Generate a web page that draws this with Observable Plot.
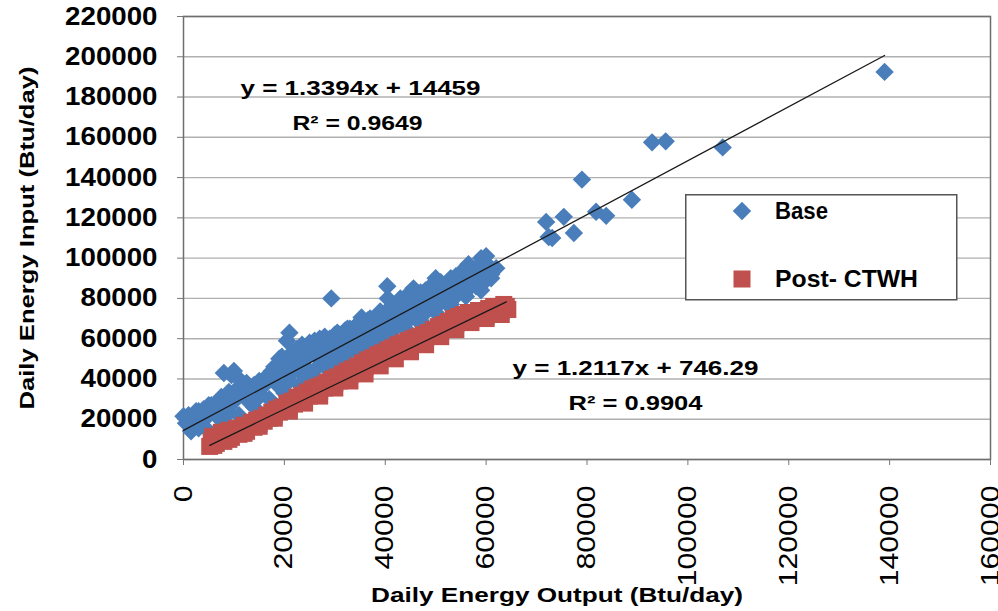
<!DOCTYPE html>
<html><head><meta charset="utf-8">
<script src="https://cdn.jsdelivr.net/npm/d3@7"></script>
<script src="https://cdn.jsdelivr.net/npm/@observablehq/plot@0.6"></script>
<style>
body{margin:0;background:#fff;}
#wrap{position:relative;width:998px;height:611px;font-family:"Liberation Sans",Arial,sans-serif;}
#legend{position:absolute;left:685px;top:194px;}
</style></head><body><div id="wrap"></div>
<script>
const seriesNames = ["Base", "Post- CTWH"];
const baseX = [0,500,1500,2000,2500,3000,4000,4000,5000,5500,6000,6500,7000,7500,8000,8500,9000,9500,10000,10500,11000,11000,12000,12500,13000,13500,14000,14500,15000,15500,16000,16500,17000,17500,18000,18500,19000,19500,20000,20500,21000,21500,22000,22500,23000,23500,24000,24500,25000,25500,26000,26500,27000,27500,28000,28500,29300,29500,30000,30500,31000,31500,32000,32500,33000,33500,34000,34500,35000,35300,36000,36500,37000,37500,38000,38500,39000,39500,40000,40400,40500,41000,41500,42000,42500,43000,43500,44000,44500,45000,45600,46000,47000,47500,48000,48500,49000,50000,50500,51300,52000,52500,53000,54000,55000,55500,56500,57000,57500,58000,59000,60000,60500,61000,62000,
5000,8000,11000,14000,17000,20000,23000,26000,29000,32000,35000,38000,41000,44000,47000,50000,53000,56000,59000,
9000,15000,21000,27000,33000,39000,45000,51000,57000,
2000,4000,6000,8000,10000,12000,14000,16000,18000,20000,22000,24000,26000,28000,30000,32000,34000,36000,38000,40000,42000,44000,46000,48000,50000,52000,54000,56000,58000,60000,
3000,7000,9000,13000,15000,19000,21000,25000,27000,31000,33000,37000,39000,43000,45000,49000,51000,55000,57000,61000,
1000,3000,5000,7000,9000,11000,13000,15000,17000,19000,21000,23000,25000,27000,29000,31000,33000,35000,37000,39000,41000,43000,45000,47000,49000,51000,53000,55000,57000,59000,
23000,29000,35000,41000,47000,53000,59000,
24000,28000,30000,32000,34000,36000,38000,40000,42000,44000,46000,48000,50000,52000,54000,56000,58000,60000,
71900,72400,73100,75400,77400,79000,81800,83800,88900,92900,95600,106900,139000];
const baseY = [21500,18000,14000,20000,24000,17000,25000,20000,22000,27000,24000,28000,26000,31000,43000,28000,33000,42000,44000,30000,35000,40000,32000,38000,36000,33000,37000,35000,39000,36000,40000,38000,41000,44000,46000,42000,50000,51000,47000,59000,63000,53000,49000,55000,52000,57000,54000,51000,58000,55000,59000,53000,60000,57000,61000,55000,80000,59000,62000,63000,57000,61000,64000,65000,60000,63000,66000,67000,62000,70500,65000,69000,67000,64000,70000,68000,73500,70000,72000,86000,80000,74000,77000,72000,76000,80000,74000,78000,82000,76000,85000,79000,81500,77000,84000,80000,86000,90000,84000,87000,82000,88000,85000,91000,93000,88000,97000,92000,89000,94000,100000,101000,96000,90000,95000,
14000,18000,22000,26000,30000,33000,37000,41000,45000,49000,53000,57000,61000,65000,69000,73000,77000,81000,84000,
26000,33000,42000,50000,58000,66000,74000,82000,86000,
19000,23000,25000,27500,31000,33000,35500,38500,41000,44000,46000,49500,52000,54000,57500,60000,62500,65000,68000,70500,73500,76000,78500,81000,84000,86500,89000,92000,95000,97500,
15500,20500,23000,28500,31000,36000,39000,44000,47000,52000,54500,59500,63000,68000,71000,76000,79000,84000,87500,92000,
22000,24000,27000,29000,33500,36000,36500,38500,42000,46500,49500,52000,54500,57000,60000,62000,65000,67000,70000,72000,75500,77500,80500,83000,85000,88000,90000,91000,95000,97000,
45500,53000,61500,69500,77500,85500,93500,
41000,46000,48500,51500,54000,57000,59500,62000,65000,67500,70000,73000,75500,78000,81000,83500,86000,89000,
118000,110500,110000,120500,112500,139000,123000,121000,129000,157500,158000,155000,192500];
const postX = [5200,5500,5800,6500,7000,7500,8000,8500,9000,9500,10000,10500,11000,11500,12000,12500,13000,13500,14000,14500,15000,15500,16000,16500,17000,17500,18000,18500,19000,19500,20000,20500,21000,21500,22000,22500,23000,23500,24000,24500,25000,25500,26000,26500,27000,27500,28000,28500,29000,29500,30000,30500,31000,31500,32000,32500,33000,33500,34000,34500,35000,35500,36000,36500,37000,37500,38000,38500,39000,39500,40000,40500,41000,41500,42000,42500,43000,43500,44000,44500,45000,45500,46000,46500,47000,47500,48000,48500,49000,49500,50000,50500,51000,51500,52000,52500,53000,53500,54000,54500,55000,55500,56000,56500,57000,57500,58000,58500,59000,59500,60000,60500,61000,61500,62000,62500,63000,63500,64000,64300,
6000,9000,12000,15000,18000,21000,24000,27000,30000,33000,36000,39000,42000,45000,48000,51000,54000,57000,60000,63000];
const postY = [6500,9000,11500,8000,11000,13500,9000,12000,14500,11000,13000,15500,12500,15000,17000,14000,16500,18500,16000,19500,18000,20500,19000,22000,20500,23500,22000,25000,23500,26000,25000,28000,26500,29000,27500,31000,29000,32000,30000,33500,31500,35000,33000,36000,34000,37000,35500,38500,36500,40000,38000,41000,39000,42500,40500,44000,42000,45000,43500,46500,45000,48000,46000,49500,47500,50500,49000,52000,50500,53000,51500,54500,53000,55500,54000,57000,55500,58000,56500,59000,57500,60000,58500,61000,59500,62000,60500,63000,61500,64500,63000,66000,64000,67000,65000,68500,66000,70000,67500,71000,68500,72000,69500,73000,70500,72000,71000,74000,72000,73500,71000,75000,72500,76000,73500,75500,74000,77000,76000,74500,
7000,10000,13000,16500,20500,24000,28000,31500,35500,39000,42500,46500,50000,53500,57000,61000,64500,68000,70000,72000];
const xTicks = [0,20000,40000,60000,80000,100000,120000,140000,160000];
const yTicks = [0,20000,40000,60000,80000,100000,120000,140000,160000,180000,200000,220000];
const baseFit = {slope: 1.3394, intercept: 14459, xMin: 0, xMax: 139000, eq: "y = 1.3394x + 14459", r2: "R² = 0.9649"};
const postFit = {slope: 1.2117, intercept: 746.29, xMin: 5200, xMax: 64000, eq: "y = 1.2117x + 746.29", r2: "R² = 0.9904"};
const xTitle = "Daily Energy Output (Btu/day)";
const yTitle = "Daily Energy Input (Btu/day)";

const base = baseX.map((x, i) => ({x, y: baseY[i]}));
const post = postX.map((x, i) => ({x, y: postY[i]}));
const fitLine = f => [f.xMin, f.xMax].map(x => ({x, y: f.slope * x + f.intercept}));

const blue = "#4a7ebb", red = "#c0504d";
const font = "'Liberation Sans', Arial, sans-serif";

const chart = Plot.plot({
  width: 998, height: 611,
  marginLeft: 183, marginRight: 8, marginTop: 16, marginBottom: 152,
  style: {fontFamily: font, background: "#fff", color: "#000"},
  x: {domain: [0, 160000]},
  y: {domain: [0, 220000]},
  marks: [
    Plot.gridY(yTicks, {stroke: "#b0b0b0", strokeOpacity: 1, strokeWidth: 1.4}),
    Plot.frame({stroke: "#6e6e6e", strokeWidth: 1.5}),
    Plot.axisY(yTicks, {tickSize: 6, tickPadding: 20, tickFormat: d => String(d), fontSize: 25, fontWeight: "bold", label: null, stroke: "#777"}),
    Plot.axisX(xTicks, {tickSize: 6, tickPadding: 20, tickRotate: -90, tickFormat: d => String(d), fontSize: 25, label: null, stroke: "#777"}),
    Plot.dot(base, {x: "x", y: "y", symbol: "diamond2", r: 8.3, fill: blue, stroke: null}),
    Plot.dot(post, {x: "x", y: "y", symbol: "square", r: 9.6, fill: red, stroke: null}),
    Plot.line(fitLine(baseFit), {x: "x", y: "y", stroke: "#1a1a1a", strokeWidth: 1.3}),
    Plot.line(fitLine(postFit), {x: "x", y: "y", stroke: "#1a1a1a", strokeWidth: 1.3}),
    Plot.text([baseFit.eq], {frameAnchor: "top-left", dx: 177, dy: 64, fontSize: 20, fontWeight: "bold", textAnchor: "middle"}),
    Plot.text([baseFit.r2], {frameAnchor: "top-left", dx: 174, dy: 99, fontSize: 20, fontWeight: "bold", textAnchor: "middle"}),
    Plot.text([postFit.eq], {frameAnchor: "top-left", dx: 452, dy: 344, fontSize: 20, fontWeight: "bold", textAnchor: "middle"}),
    Plot.text([postFit.r2], {frameAnchor: "top-left", dx: 452, dy: 379, fontSize: 20, fontWeight: "bold", textAnchor: "middle"}),
    Plot.text([xTitle], {frameAnchor: "bottom", dx: -30, dy: 142, fontSize: 21, fontWeight: "bold", textAnchor: "middle"}),
    Plot.text([yTitle], {frameAnchor: "left", dx: -156, dy: 0, rotate: -90, fontSize: 21, fontWeight: "bold", textAnchor: "middle"})
  ]
});

// horizontal stretching of texts to match the reference's wide lettering
const lengths = new Map([
  [baseFit.eq, 240], [baseFit.r2, 130], [postFit.eq, 246], [postFit.r2, 134],
  [xTitle, 372], [yTitle, 343]
]);
d3.select(chart).selectAll("text").each(function() {
  const t = this.textContent;
  if (lengths.has(t)) d3.select(this).attr("textLength", lengths.get(t)).attr("lengthAdjust", "spacingAndGlyphs");
});
d3.select(chart).selectAll("g[aria-label='y-axis tick label'] text").each(function() {
  d3.select(this).attr("textLength", this.textContent.length * 15.4).attr("lengthAdjust", "spacingAndGlyphs");
});
d3.select(chart).selectAll("g[aria-label='x-axis tick label'] text").each(function() {
  d3.select(this).attr("textLength", this.textContent.length * 16.8).attr("lengthAdjust", "spacingAndGlyphs");
});

const wrap = document.getElementById("wrap");
wrap.appendChild(chart);

// legend
const leg = d3.select(wrap).append("svg").attr("id", "legend").attr("width", 274).attr("height", 108)
  .style("font-family", font);
leg.append("rect").attr("x", 0.75).attr("y", 0.75).attr("width", 271).attr("height", 105)
  .attr("fill", "#fff").attr("stroke", "#555").attr("stroke-width", 1.5);
leg.append("path").attr("d", d3.symbol(d3.symbolDiamond2, Math.PI * 8.3 * 8.3)()).attr("transform", "translate(57,17)").attr("fill", blue);
leg.append("path").attr("d", d3.symbol(d3.symbolSquare, Math.PI * 9.6 * 9.6)()).attr("transform", "translate(57,85)").attr("fill", red);
leg.append("text").attr("x", 90).attr("y", 25).attr("font-size", 23).attr("font-weight", "bold").attr("textLength", 53).attr("lengthAdjust", "spacingAndGlyphs").text(seriesNames[0]);
leg.append("text").attr("x", 90).attr("y", 93).attr("font-size", 23).attr("font-weight", "bold").attr("textLength", 143).attr("lengthAdjust", "spacingAndGlyphs").text(seriesNames[1]);
</script>
</body></html>
